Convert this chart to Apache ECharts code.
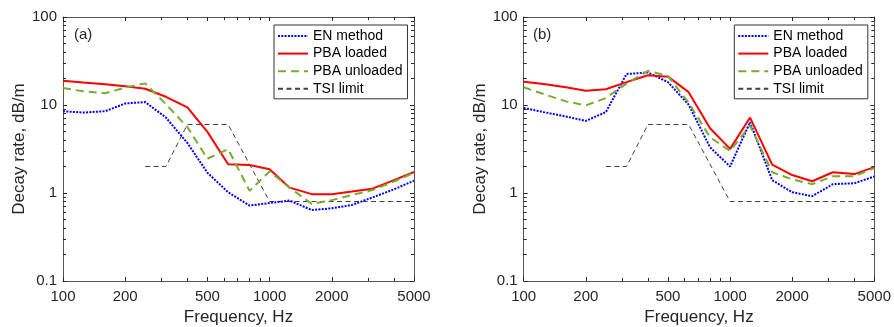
<!DOCTYPE html>
<html>
<head>
<meta charset="utf-8">
<script src="https://cdn.jsdelivr.net/npm/echarts@6/dist/echarts.min.js"></script>
<style>
html,body{margin:0;padding:0;background:#fff;}
#chart{width:894px;height:327px;}
</style>
</head>
<body>
<div id="chart"></div>
<script>
// ---- data ----
var freq = [100,125,160,200,250,315,400,500,630,800,1000,1250,1600,2000,2500,3150,4000,5000];
var tsiFreq = [250,315,400,630,1000,5000];
var tsiVal  = [2,2,6,6,0.8,0.8];

var enA       = [8.5,8.2,8.5,10.4,10.8,7.2,3.7,1.7,1.02,0.72,0.77,0.82,0.64,0.67,0.73,0.89,1.1,1.38];
var loadedA   = [18.9,18.0,17.2,16.3,15.3,12.4,9.4,4.95,2.12,2.08,1.86,1.15,0.97,0.97,1.04,1.12,1.40,1.73];
var unloadedA = [15.6,14.3,13.6,15.8,17.6,10.2,5.6,2.45,3.15,1.06,1.76,1.15,0.75,0.83,0.95,1.08,1.35,1.70];

var enB       = [9.25,8.3,7.4,6.6,8.3,22.5,23.4,18.2,10.1,3.3,2.0,6.4,1.4,1.02,0.92,1.26,1.29,1.54];
var loadedB   = [18.4,17.3,15.9,14.5,15.1,18.2,21.8,21.0,14.0,5.45,3.17,7.2,2.1,1.6,1.36,1.72,1.64,1.97];
var unloadedB = [15.9,13.3,11.0,9.9,12.0,17.5,24.4,21.4,10.6,4.3,3.0,5.85,1.72,1.43,1.26,1.55,1.55,1.92];

var xMajor = [100,200,500,1000,2000,5000];
var xMinor = [300,400,600,700,800,900,3000,4000];
var yMajor = [0.1,1,10,100];
var yMinor = [0.2,0.3,0.4,0.5,0.6,0.7,0.8,0.9,2,3,4,5,6,7,8,9,20,30,40,50,60,70,80,90];
var xLabels = [100,200,500,1000,2000,5000];
var yLabels = [0.1,1,10,100];
var seriesNames = ['EN method','PBA loaded','PBA unloaded','TSI limit'];
var panelLabels = ['(a)','(b)'];

// ---- layout ----
var FONT = 'Liberation Sans, Arial, sans-serif';
var TXT = '#262626';
var gridRects = [
  {left:63, top:17, width:351, height:264},
  {left:523.7, top:17, width:350.6, height:264}
];

var grids = [], xAxes = [], yAxes = [], series = [], legends = [], titles = [];

function pairs(xs, ys){ return xs.map(function(x,i){ return [x, ys[i]]; }); }

for (var k = 0; k < 4; k++) {
  var r = gridRects[k % 2];
  grids.push({left:r.left, top:r.top, width:r.width, height:r.height,
    containLabel:false, outerBoundsMode:'none', show:false});
}

function xAx(gi, pos, ticks, len, main) {
  return {
    type:'log', logBase:10, min:100, max:5000, gridIndex:gi, position:pos,
    axisLine:{show:main, lineStyle:{color:'#555', width:1}},
    axisTick:{show:true, inside:true, length:len, customValues:ticks, lineStyle:{color:TXT, width:1}},
    axisLabel:{show: main && pos==='bottom', customValues:xLabels, margin:8,
      fontFamily:FONT, fontSize:15, color:TXT, formatter:function(v){return String(v);}},
    splitLine:{show:false}, minorTick:{show:false},
    name: (main && pos==='bottom') ? 'Frequency, Hz' : '',
    nameLocation:'middle', nameGap:26,
    nameTextStyle:{fontFamily:FONT, fontSize:17, color:TXT}
  };
}
function yAx(gi, pos, ticks, len, main) {
  return {
    type:'log', logBase:10, min:0.1, max:100, gridIndex:gi, position:pos,
    axisLine:{show:main, lineStyle:{color:'#555', width:1}},
    axisTick:{show:true, inside:true, length:len, customValues:ticks, lineStyle:{color:TXT, width:1}},
    axisLabel:{show: main && pos==='left', customValues:yLabels, margin:6,
      fontFamily:FONT, fontSize:15, color:TXT, formatter:function(v){return String(v);}},
    splitLine:{show:false}, minorTick:{show:false},
    name: (main && pos==='left') ? 'Decay rate, dB/m' : '',
    nameLocation:'middle', nameGap:33,
    nameTextStyle:{fontFamily:FONT, fontSize:17, color:TXT}
  };
}

for (var g = 0; g < 2; g++) {
  xAxes.push(xAx(g,'bottom',xMajor,4,true));
  xAxes.push(xAx(g,'top',xMajor,4,true));
  yAxes.push(yAx(g,'left',yMajor,4,true));
  yAxes.push(yAx(g,'right',yMajor,4,true));
  xAxes.push(xAx(g+2,'bottom',xMinor,3,false));
  xAxes.push(xAx(g+2,'top',xMinor,3,false));
  yAxes.push(yAx(g+2,'left',yMinor,3,false));
  yAxes.push(yAx(g+2,'right',yMinor,3,false));
}

var panels = [
  {en:enA, loaded:loadedA, unloaded:unloadedA},
  {en:enB, loaded:loadedB, unloaded:unloadedB}
];

for (var g = 0; g < 2; g++) {
  var p = panels[g];
  var xi = g*4, yi = g*4;
  var common = {type:'line', xAxisIndex:xi, yAxisIndex:yi, symbol:'none', animation:false, z:3};
  series.push(Object.assign({}, common, {
    name:seriesNames[0], data:pairs(freq,p.en),
    lineStyle:{color:'#0000ff', width:2, type:[2,1.3], cap:'butt'}, itemStyle:{color:'#0000ff'}
  }));
  series.push(Object.assign({}, common, {
    name:seriesNames[1], data:pairs(freq,p.loaded),
    lineStyle:{color:'#ff0000', width:2, type:'solid'}, itemStyle:{color:'#ff0000'}
  }));
  series.push(Object.assign({}, common, {
    name:seriesNames[2], data:pairs(freq,p.unloaded),
    lineStyle:{color:'#77ac30', width:2, type:[8,5]}, itemStyle:{color:'#77ac30'}
  }));
  series.push(Object.assign({}, common, {
    name:seriesNames[3], data:pairs(tsiFreq,tsiVal), z:2,
    lineStyle:{color:'#404040', width:1, type:[5,3.5]}, itemStyle:{color:'#404040'}
  }));

  legends.push({
    data:seriesNames.slice(),
    orient:'vertical',
    left: g===0 ? 274 : 734.3, top:25,
    padding:[4,5,3,3],
    itemWidth:30, itemHeight:14, itemGap:3.6,
    itemStyle:{color:'rgba(0,0,0,0)', borderWidth:0, opacity:0},
    backgroundColor:'#fff', borderColor:'#333', borderWidth:1, borderRadius:0,
    textStyle:{fontFamily:FONT, fontSize:14, color:'#000'},
    selectedMode:false
  });
  titles.push({
    text:panelLabels[g], left: g===0 ? 74 : 533, top:27, padding:0,
    textStyle:{fontFamily:FONT, fontSize:15, fontWeight:'normal', color:TXT}
  });
}

var chart = echarts.init(document.getElementById('chart'), null, {renderer:'canvas'});
chart.setOption({
  animation:false,
  backgroundColor:'#fff',
  title:titles,
  grid:grids,
  xAxis:xAxes,
  yAxis:yAxes,
  legend:legends,
  series:series
});
</script>
</body>
</html>
